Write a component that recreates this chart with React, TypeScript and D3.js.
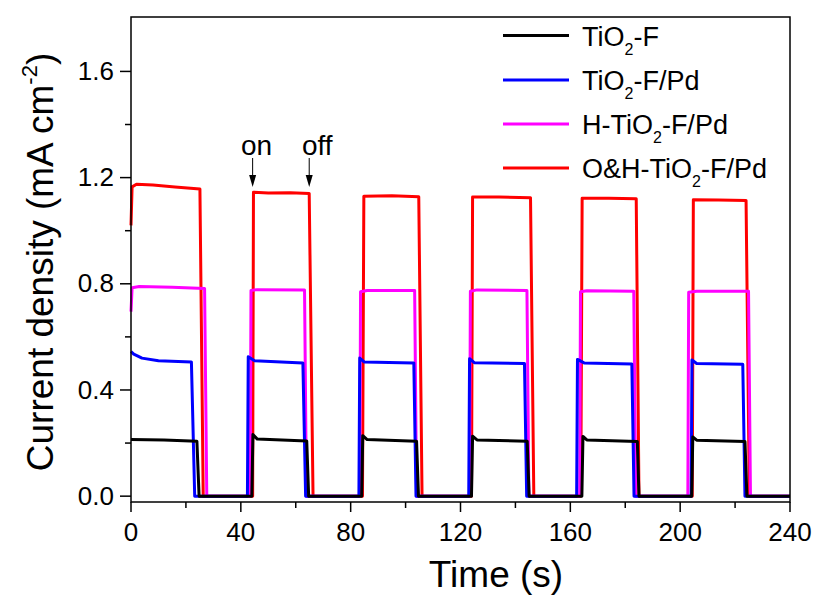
import React from 'react';
import * as d3 from 'd3';

// ---------- data ----------
const xMajorTicks = [0, 40, 80, 120, 160, 200, 240];
const xMinorTicks = [20, 60, 100, 140, 180, 220];
const yMajorTicks = [0, 0.4, 0.8, 1.2, 1.6];
const yMinorTicks = [0.2, 0.6, 1.0, 1.4];

// TiO2-F (black)
const tio2F: [number, number][] = [
  [0, 0.213], [12, 0.212], [24.0, 0.207], [24.8, 0],
  [44.0, 0], [44.4, 0.232], [46, 0.215], [64.0, 0.208], [64.7, 0],
  [84.0, 0], [84.4, 0.228], [86, 0.213], [104.0, 0.207], [104.7, 0],
  [124.0, 0], [124.4, 0.226], [126, 0.212], [144.3, 0.207], [145.0, 0],
  [164.2, 0], [164.6, 0.225], [166, 0.212], [184.4, 0.206], [185.0, 0],
  [204.2, 0], [204.6, 0.223], [206, 0.211], [223.6, 0.206], [224.3, 0], [240, 0],
];

// TiO2-F/Pd (blue)
const tio2FPd: [number, number][] = [
  [0, 0.545], [1, 0.535], [4, 0.52], [10, 0.51], [22.0, 0.505], [23.2, 0],
  [42.4, 0], [42.7, 0.525], [45, 0.51], [62.6, 0.502], [63.6, 0],
  [83.0, 0], [83.3, 0.52], [85, 0.505], [103.0, 0.502], [103.8, 0],
  [123.0, 0], [123.3, 0.518], [125, 0.503], [143.3, 0.5], [144.1, 0],
  [162.3, 0], [162.6, 0.515], [165, 0.502], [182.4, 0.498], [183.2, 0],
  [204.0, 0], [204.3, 0.513], [206, 0.5], [222.8, 0.497], [223.6, 0], [240, 0],
];

// H-TiO2-F/Pd (magenta)
const hTio2FPd: [number, number][] = [
  [0, 0.695], [0.4, 0.785], [3, 0.79], [15, 0.787], [26.8, 0.782], [27.6, 0],
  [43.4, 0], [43.7, 0.775], [46, 0.778], [63.2, 0.777], [63.9, 0],
  [83.3, 0], [83.6, 0.77], [86, 0.775], [103.3, 0.775], [104.0, 0],
  [123.3, 0], [123.6, 0.772], [126, 0.777], [144.2, 0.775], [144.9, 0],
  [163.4, 0], [163.7, 0.77], [166, 0.774], [183.1, 0.772], [183.8, 0],
  [202.8, 0], [203.1, 0.768], [206, 0.772], [224.9, 0.772], [225.6, 0], [240, 0],
];

// O&H-TiO2-F/Pd (red)
const ohTio2FPd: [number, number][] = [
  [0, 1.02], [0.4, 1.165], [2, 1.175], [8, 1.172], [16, 1.165], [25.1, 1.157], [26.3, 0],
  [44.3, 0], [44.6, 1.145], [50, 1.142], [58, 1.143], [64.9, 1.14], [66.3, 0],
  [84.3, 0], [84.8, 1.13], [95, 1.132], [104.8, 1.128], [106.0, 0],
  [124.0, 0], [124.4, 1.127], [134, 1.127], [145.5, 1.124], [146.7, 0],
  [163.8, 0], [164.3, 1.122], [174, 1.122], [184.0, 1.12], [185.0, 0],
  [204.4, 0], [204.8, 1.117], [214, 1.116], [224.0, 1.114], [225.2, 0], [240, 0],
];

const legendParts: [string, string, string][] = [
  ['TiO', '2', '-F'],
  ['TiO', '2', '-F/Pd'],
  ['H-TiO', '2', '-F/Pd'],
  ['O&H-TiO', '2', '-F/Pd'],
];
const seriesColors = ['#000000', '#0000ff', '#ff00ff', '#ff0000'];
const seriesData = [tio2F, tio2FPd, hTio2FPd, ohTio2FPd];

const onTime = 44.3;
const offTime = 64.9;

// ---------- layout ----------
const W = 819;
const H = 595;
const left = 131;
const right = 790;
const top = 17;
const bottom = 502;
const FONT = 'Liberation Sans, Arial, sans-serif';

export default function App() {
  const x = d3.scaleLinear().domain([0, 240]).range([left, right]);
  const y = d3.scaleLinear().domain([-0.022, 1.805]).range([bottom, top]);
  const line = d3
    .line<[number, number]>()
    .x((d) => x(d[0]))
    .y((d) => y(d[1]));

  const drawOrder = [3, 2, 1, 0];
  const legendBase = [45.5, 90, 134, 178];

  return (
    <svg
      width={W}
      height={H}
      style={{ position: 'absolute', left: 0, top: 0, background: '#fff' }}
      fontFamily={FONT}
    >
      <rect x={0} y={0} width={W} height={H} fill="#fff" />
      {/* series */}
      <g fill="none" strokeWidth={3} strokeLinejoin="round">
        {drawOrder.map((i) => (
          <path key={i} d={line(seriesData[i]) || ''} stroke={seriesColors[i]} />
        ))}
      </g>

      {/* frame */}
      <rect
        x={left}
        y={top}
        width={right - left}
        height={bottom - top}
        fill="none"
        stroke="#000"
        strokeWidth={1.5}
      />

      {/* ticks */}
      <g stroke="#000" strokeWidth={1.5}>
        {xMajorTicks.map((t) => (
          <line key={'xM' + t} x1={x(t)} x2={x(t)} y1={bottom} y2={bottom + 10} />
        ))}
        {xMinorTicks.map((t) => (
          <line key={'xm' + t} x1={x(t)} x2={x(t)} y1={bottom} y2={bottom + 6} />
        ))}
        {yMajorTicks.map((t) => (
          <line key={'yM' + t} x1={left - 11} x2={left} y1={y(t)} y2={y(t)} />
        ))}
        {yMinorTicks.map((t) => (
          <line key={'ym' + t} x1={left - 6} x2={left} y1={y(t)} y2={y(t)} />
        ))}
      </g>

      {/* tick labels */}
      <g fontSize={26} fill="#000">
        {xMajorTicks.map((t) => (
          <text key={'xl' + t} x={x(t)} y={541} textAnchor="middle">
            {d3.format('d')(t)}
          </text>
        ))}
        {yMajorTicks.map((t) => (
          <text key={'yl' + t} x={114} y={y(t)} dy="0.33em" textAnchor="end">
            {d3.format('.1f')(t)}
          </text>
        ))}
      </g>

      {/* axis titles */}
      <text x={496} y={587} fontSize={37} textAnchor="middle" fill="#000">
        Time (s)
      </text>
      <text
        transform="translate(53,262) rotate(-90)"
        fontSize={37}
        textAnchor="middle"
        fill="#000"
      >
        Current density (mA cm
        <tspan fontSize={22} dy={-16}>
          -2
        </tspan>
        <tspan dy={16}>)</tspan>
      </text>

      {/* legend */}
      {legendParts.map((p, i) => (
        <g key={'lg' + i}>
          <line
            x1={503}
            x2={569}
            y1={legendBase[i] - 10}
            y2={legendBase[i] - 10}
            stroke={seriesColors[i]}
            strokeWidth={3}
          />
          <text x={582} y={legendBase[i]} fontSize={27} fill="#000">
            {p[0]}
            <tspan fontSize={16} dy={9}>
              {p[1]}
            </tspan>
            <tspan dy={-9}>{p[2]}</tspan>
          </text>
        </g>
      ))}

      {/* on / off annotations */}
      {[
        { t: onTime, label: 'on' },
        { t: offTime, label: 'off' },
      ].map((a) => (
        <g key={a.label}>
          <text x={x(a.t)} y={155} dx={a.label === 'on' ? 4 : 8} fontSize={28} textAnchor="middle" fill="#000">
            {a.label}
          </text>
          <line x1={x(a.t)} x2={x(a.t)} y1={158} y2={178} stroke="#000" strokeWidth={1} />
          <path
            d={`M${x(a.t) - 3.5},${175} L${x(a.t) + 3.5},${175} L${x(a.t)},${187} Z`}
            fill="#000"
          />
        </g>
      ))}
    </svg>
  );
}
